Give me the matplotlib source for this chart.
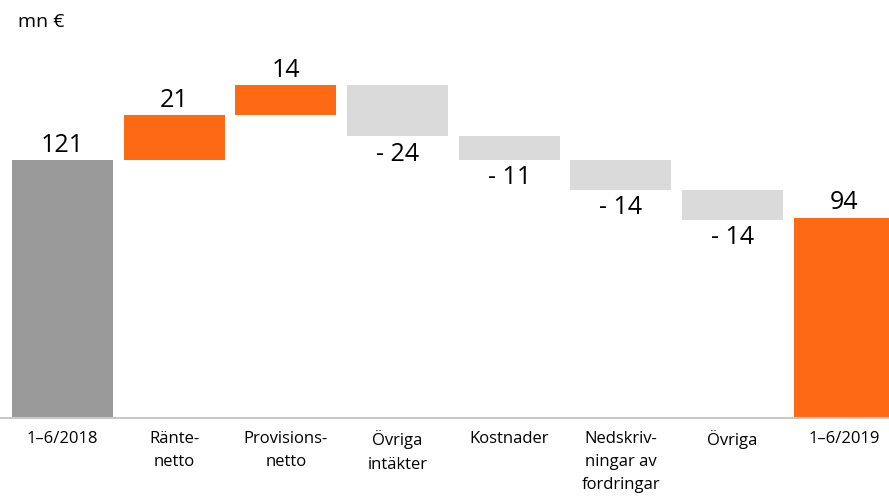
from matplotlib import pyplot as plt
import numpy as np

# data
categories = ["1–6/2018", "Ränte-\nnetto", "Provisions-\nnetto", "Övriga\nintäkter",
              "Kostnader", "Nedskriv-\nningar av\nfordringar", "Övriga", "1–6/2019"]
start_value = 121
changes = [21, 14, -24, -11, -14, -14]
end_value = 94

plt.rcParams['font.family'] = ['Open Sans', 'DejaVu Sans']

fig = plt.figure(figsize=(8.89, 4.98), dpi=100)
ax = fig.add_axes([0, 1 - 418 / 498, 1, 418 / 498])

orange = '#FE6A14'
dark_gray = '#9A9A9A'
light_gray = '#DADADA'
w = 0.905
fs = 18

# start bar
ax.bar(0, start_value, width=w, color=dark_gray)
ax.text(0, start_value + 1, str(start_value), ha='center', va='bottom', fontsize=fs)

# change bars
level = start_value
for i, c in enumerate(changes, start=1):
    if c >= 0:
        ax.bar(i, c, bottom=level, width=w, color=orange)
        ax.text(i, level + c + 1, str(c), ha='center', va='bottom', fontsize=fs)
    else:
        ax.bar(i, -c, bottom=level + c, width=w, color=light_gray)
        ax.text(i, level + c - 2.5, "- " + str(-c), ha='center', va='top', fontsize=fs)
    level += c

# end bar
n = len(categories) - 1
ax.bar(n, end_value, width=w, color=orange)
ax.text(n, end_value + 1, str(end_value), ha='center', va='bottom', fontsize=fs)

ax.set_xlim(-0.56, 7.40)
ax.set_ylim(0, 196)
ax.set_xticks(np.arange(len(categories)))
ax.set_xticklabels(categories, fontsize=12, va='top', linespacing=1.6)
ax.tick_params(axis='x', length=0, pad=9)
ax.set_yticks([])
for s in ['top', 'right', 'left']:
    ax.spines[s].set_visible(False)
ax.spines['bottom'].set_color('#C8C8C8')
ax.spines['bottom'].set_linewidth(1.5)

fig.text(0.02, 0.955, "mn €", fontsize=14, va='center', ha='left')

fig.savefig('out.png', dpi=100)
